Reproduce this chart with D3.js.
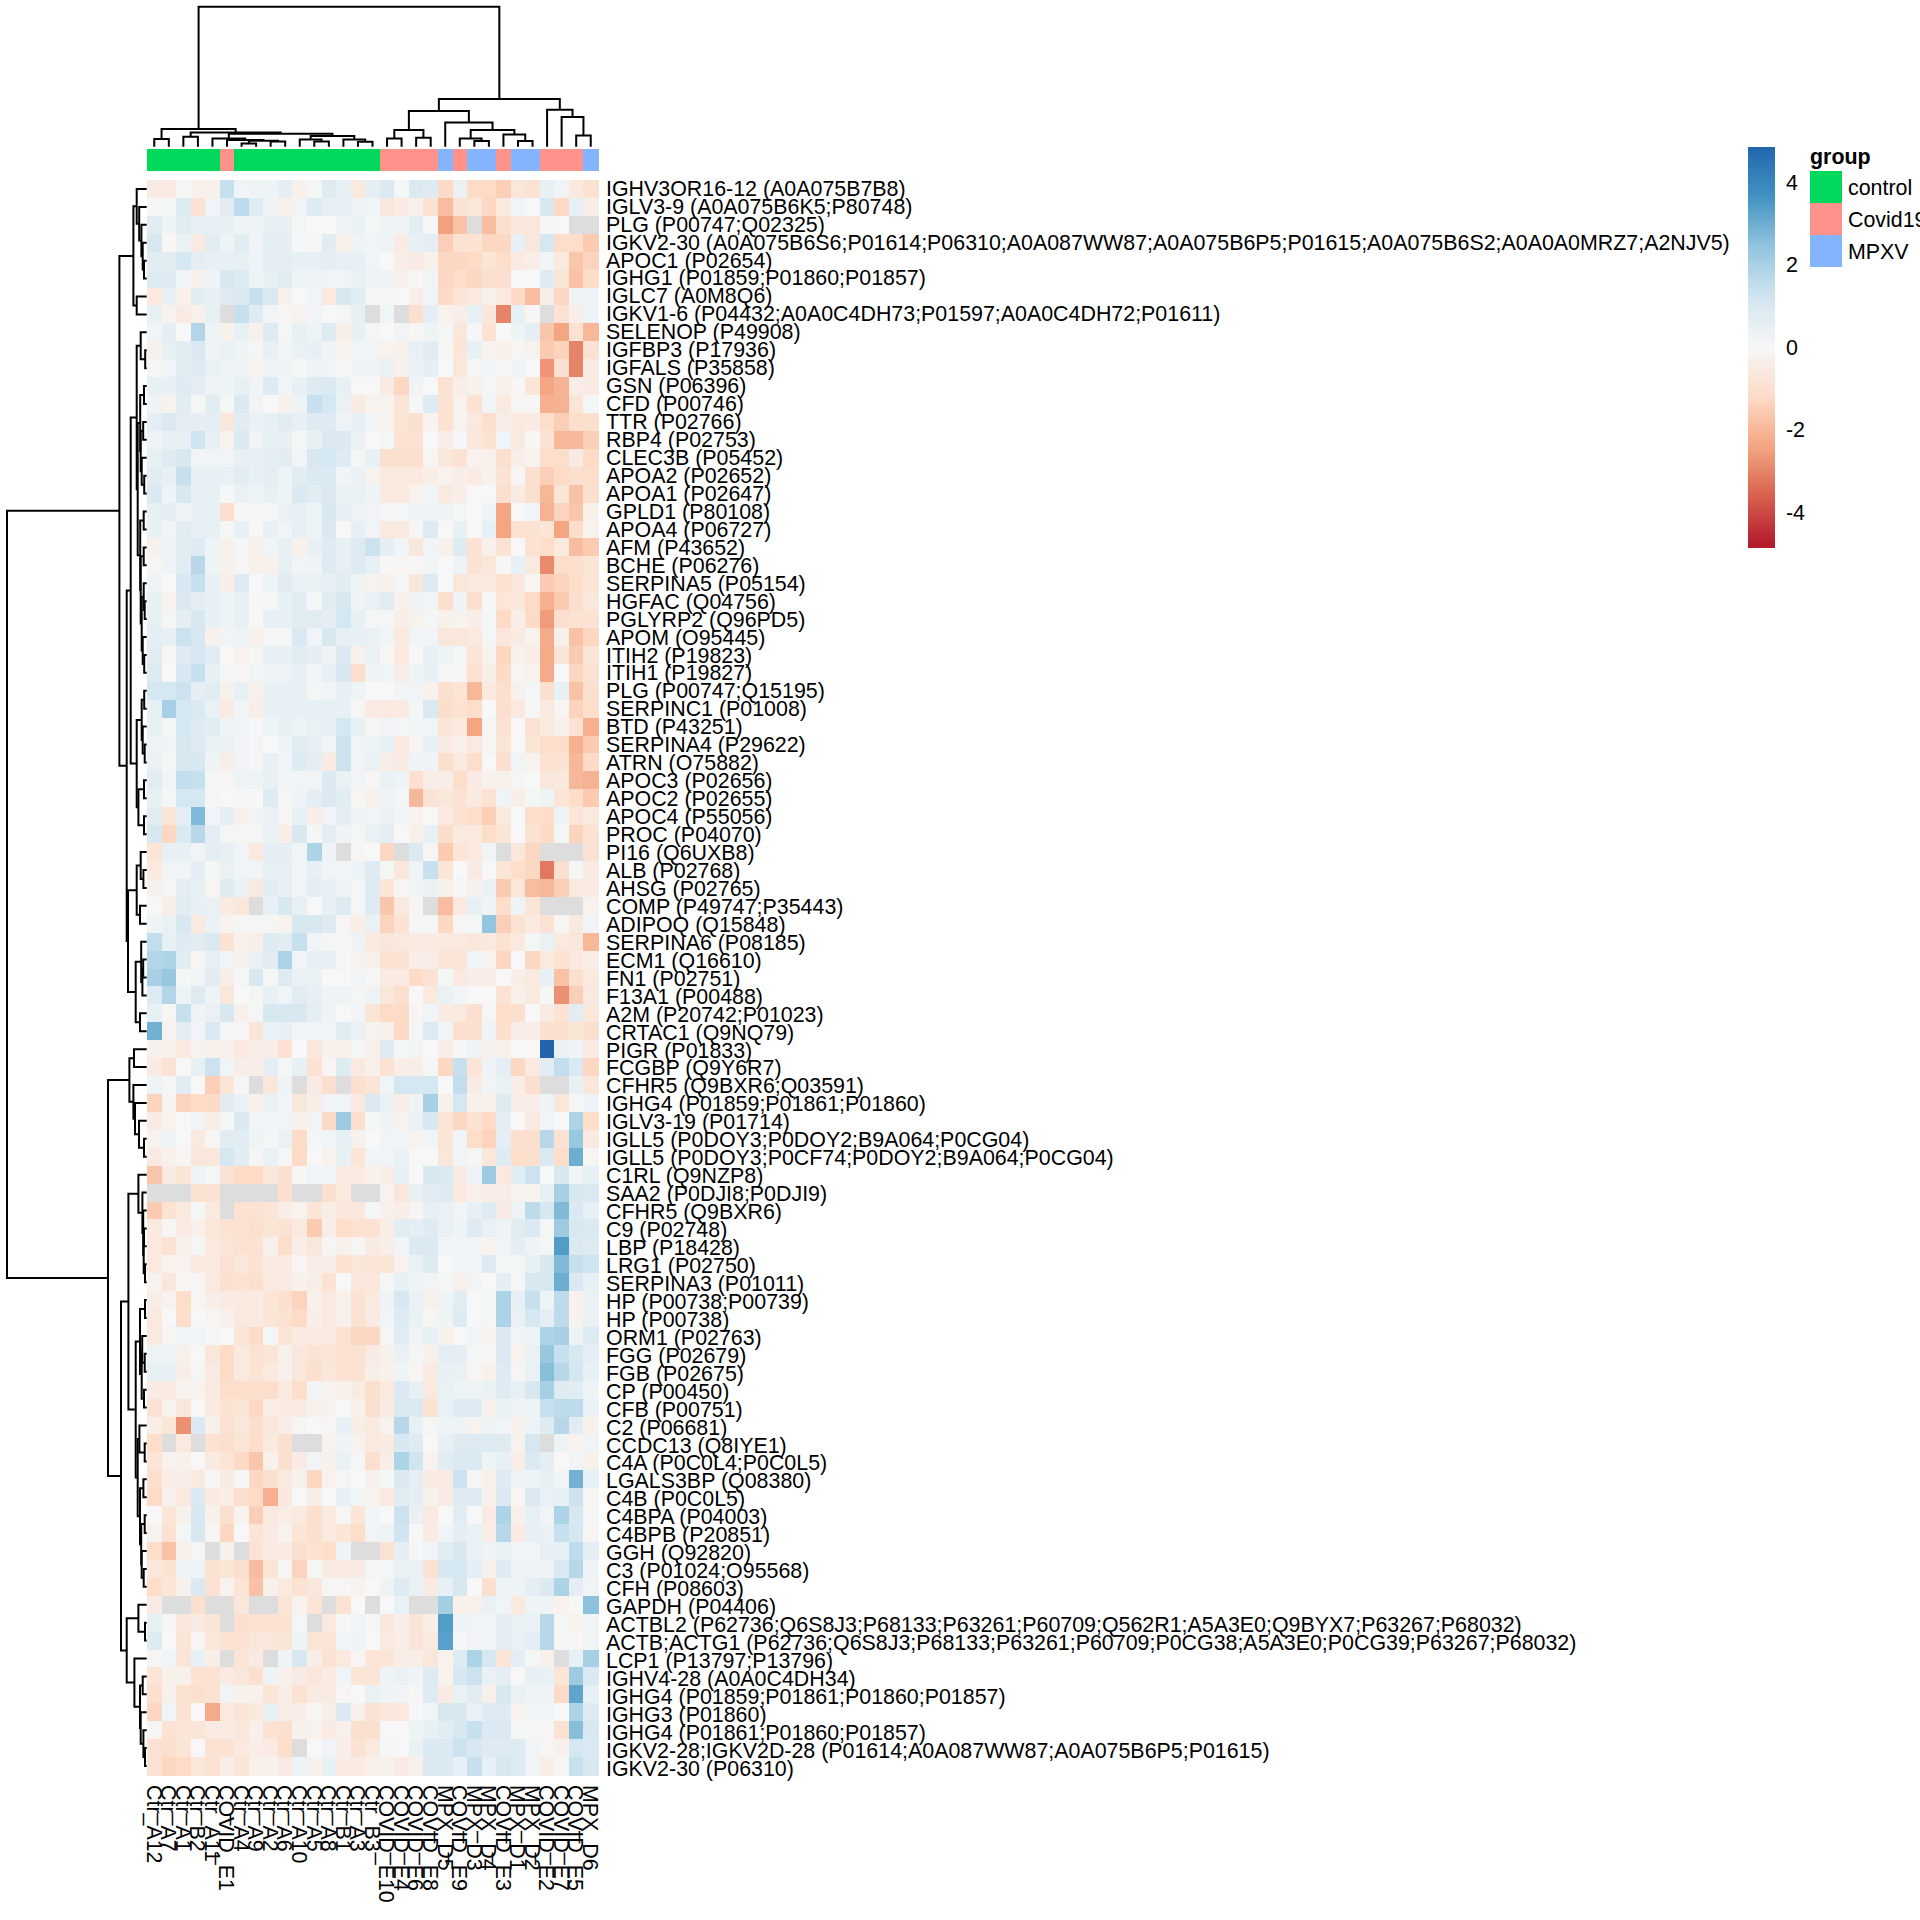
<!DOCTYPE html>
<html><head><meta charset="utf-8"><style>html,body{margin:0;padding:0;background:#fff}svg{display:block}</style>
<script src="https://cdn.jsdelivr.net/npm/d3@7"></script></head><body><div id="chart"></div>
<script>
const N = null;
const colLabels = ["Ctr_A12","Ctr_A7","Ctr_A1","Ctr_B2","Ctr_A11","COVID_E1","Ctr_A4","Ctr_A9","Ctr_A2","Ctr_A6","Ctr_A10","Ctr_A5","Ctr_A8","Ctr_B1","Ctr_A3","Ctr_B3","COVID_E10","COVID_E4","COVID_E6","COVID_E8","MPX_D5","COVID_E9","MPX_D3","MPX_D4","COVID_E3","MPX_D1","MPX_D2","COVID_E2","COVID_E7","COVID_E5","MPX_D6"];
const groupNames = ["control","Covid19","MPXV"];
const groupColors = ["#00D95C","#FF928A","#85B4FF"];
const colGroups = [0,0,0,0,0,1,0,0,0,0,0,0,0,0,0,0,1,1,1,1,2,1,2,2,1,2,2,1,1,1,2];
const rowLabels = ["IGHV3OR16-12 (A0A075B7B8)","IGLV3-9 (A0A075B6K5;P80748)","PLG (P00747;Q02325)","IGKV2-30 (A0A075B6S6;P01614;P06310;A0A087WW87;A0A075B6P5;P01615;A0A075B6S2;A0A0A0MRZ7;A2NJV5)","APOC1 (P02654)","IGHG1 (P01859;P01860;P01857)","IGLC7 (A0M8Q6)","IGKV1-6 (P04432;A0A0C4DH73;P01597;A0A0C4DH72;P01611)","SELENOP (P49908)","IGFBP3 (P17936)","IGFALS (P35858)","GSN (P06396)","CFD (P00746)","TTR (P02766)","RBP4 (P02753)","CLEC3B (P05452)","APOA2 (P02652)","APOA1 (P02647)","GPLD1 (P80108)","APOA4 (P06727)","AFM (P43652)","BCHE (P06276)","SERPINA5 (P05154)","HGFAC (Q04756)","PGLYRP2 (Q96PD5)","APOM (O95445)","ITIH2 (P19823)","ITIH1 (P19827)","PLG (P00747;Q15195)","SERPINC1 (P01008)","BTD (P43251)","SERPINA4 (P29622)","ATRN (O75882)","APOC3 (P02656)","APOC2 (P02655)","APOC4 (P55056)","PROC (P04070)","PI16 (Q6UXB8)","ALB (P02768)","AHSG (P02765)","COMP (P49747;P35443)","ADIPOQ (Q15848)","SERPINA6 (P08185)","ECM1 (Q16610)","FN1 (P02751)","F13A1 (P00488)","A2M (P20742;P01023)","CRTAC1 (Q9NQ79)","PIGR (P01833)","FCGBP (Q9Y6R7)","CFHR5 (Q9BXR6;Q03591)","IGHG4 (P01859;P01861;P01860)","IGLV3-19 (P01714)","IGLL5 (P0DOY3;P0DOY2;B9A064;P0CG04)","IGLL5 (P0DOY3;P0CF74;P0DOY2;B9A064;P0CG04)","C1RL (Q9NZP8)","SAA2 (P0DJI8;P0DJI9)","CFHR5 (Q9BXR6)","C9 (P02748)","LBP (P18428)","LRG1 (P02750)","SERPINA3 (P01011)","HP (P00738;P00739)","HP (P00738)","ORM1 (P02763)","FGG (P02679)","FGB (P02675)","CP (P00450)","CFB (P00751)","C2 (P06681)","CCDC13 (Q8IYE1)","C4A (P0C0L4;P0C0L5)","LGALS3BP (Q08380)","C4B (P0C0L5)","C4BPA (P04003)","C4BPB (P20851)","GGH (Q92820)","C3 (P01024;O95568)","CFH (P08603)","GAPDH (P04406)","ACTBL2 (P62736;Q6S8J3;P68133;P63261;P60709;Q562R1;A5A3E0;Q9BYX7;P63267;P68032)","ACTB;ACTG1 (P62736;Q6S8J3;P68133;P63261;P60709;P0CG38;A5A3E0;P0CG39;P63267;P68032)","LCP1 (P13797;P13796)","IGHV4-28 (A0A0C4DH34)","IGHG4 (P01859;P01861;P01860;P01857)","IGHG3 (P01860)","IGHG4 (P01861;P01860;P01857)","IGKV2-28;IGKV2D-28 (P01614;A0A087WW87;A0A075B6P5;P01615)","IGKV2-30 (P06310)"];
const legendTicks = [4,2,0,-2,-4];
const valueMin = -4.85, valueMax = 4.85;

const heatRows = [
[-.5,-.5,.1,-.3,-.3,1.4,.2,.3,.3,.6,-.3,.1,.8,.5,-.6,.6,.9,.1,.9,.8,-1.2,.4,-1.2,-1.2,-1.5,-.7,-.9,.5,.2,-.6,-.9],
[-.05,.1,.8,-.9,.2,.7,1.6,.8,.3,-.3,.2,.8,.5,.5,.3,.2,-.7,-.5,-.3,-.9,-1.9,-.9,-.7,-1.3,-.6,.2,0,1,-1.2,.5,-.4],
[.7,.3,.7,.5,.5,.5,.3,.3,.5,.5,.1,0,0,.3,.4,.1,.3,.3,.7,.1,-2.5,-1.8,N,-1.9,-1,-.7,-.7,-.05,0,N,N],
[1,-.05,.4,-.5,.7,.3,.7,.2,.6,.6,.05,.1,.7,-.3,.3,.2,.3,-.5,.5,.6,-1.5,-.9,-.9,-1.3,-1.3,.5,-.7,1.1,-1.1,-1.1,-1.6],
[.7,.7,1.1,.6,.5,.5,.5,.3,.6,.6,.5,.5,.6,.5,.5,.2,0,-.4,-.5,-.3,-1.3,-1.3,-1.2,-.8,-1.1,-.5,-.4,.2,-.6,-1.7,-1.4],
[.8,.8,.2,-.3,.3,1,.8,.3,.5,.7,.3,.3,.2,.2,.4,.3,.3,-.3,-.1,.2,-1.3,-1.1,-1.3,-1,-1,0,0,.8,-.8,-1.8,-1.1],
[-.6,.5,-.3,.7,.5,.8,.9,1.4,.9,-.3,0,.2,-.6,1,.7,.1,.1,0,-.4,.2,-1.2,-.8,-.6,-.3,-.6,-1.2,-1.9,-.4,-1.3,.3,.3],
[.5,-.2,-.5,-.3,.5,N,1.4,.8,.2,-.1,-.2,.2,0,.1,.5,N,.2,N,-1,.6,-.2,-.4,.5,-.7,-3,.5,-.1,N,-.9,-.4,.3],
[.2,.6,0,1.8,.3,-.3,.5,-.3,.8,.1,.5,.3,.8,-.4,.5,.1,0,.2,-.1,.3,.1,-.7,.05,-.9,0,.3,.6,-1.7,-2.4,-.9,-2],
[-.3,.5,.7,.9,.3,.4,.3,.1,.5,.2,.4,.5,.3,-.2,.2,.2,-.2,-.3,.5,.7,-.1,-.8,.5,-.2,-.3,-.1,-.2,-1.6,-1.4,-3,-.9],
[-.1,.2,.7,.8,.4,.3,.3,-.2,.3,.3,.1,.3,.2,.1,.3,.3,.4,-.3,.4,.6,0,-.7,.1,.2,-.1,.3,0,-2.7,-1,-3,-.5],
[.5,.5,.8,.6,.3,.3,.5,.2,.8,.2,.5,.8,.9,.5,0,0,-.5,-1.3,.2,0,-.9,-.4,-.3,.1,-.3,-.05,-.8,-2.4,-2.1,-.4,-.5],
[.3,-.2,.7,.1,.7,.1,.9,.2,0,-.3,.3,1.4,1.1,.4,-.5,-.2,-.2,-.8,.1,.8,-.9,-.2,-.9,.2,-.6,-.05,-.05,-2.2,-2.1,-.8,.1],
[.6,.9,.6,.6,.6,-.7,.7,.4,.5,.7,.5,.8,.8,.3,.5,.2,-.2,-.8,-1,-.2,-.9,-.2,-.6,-1,-.4,-.6,-.5,-1.1,-1.5,-1.1,-1],
[.3,.5,.5,1.2,.5,-.2,.9,.2,.5,.5,.1,.5,.9,.9,.4,0,.1,-.9,-.9,0,-.4,.05,-.7,-.9,.2,-.6,-.05,-.9,-2,-2,-1.5],
[.5,.8,1,.2,.2,.2,.5,.5,.6,.7,.2,1,1.1,.8,.1,.5,-1,-1,-1,-.1,-.7,-.9,-.2,-.3,-1,-.4,-.2,-1.1,-1.1,-.5,-1.2],
[.7,.5,1.4,.5,.5,.4,.7,.5,.6,.3,.7,.9,.9,.2,.4,-.2,-.6,-.6,-.6,-.4,-.2,-.4,-.5,-.3,-.9,-.1,-1,-1.5,-1.2,-1,-1.1],
[.9,.3,1,.5,.5,.05,.4,.3,.5,.3,.9,.7,.9,.4,.4,.3,-.6,-.6,-.2,.2,-.6,-.4,0,0,-1,-.5,-1,-2,-.8,-1.8,-1],
[.5,.6,.3,.5,.5,-1,-.05,-.1,.1,.4,.5,.3,1,.5,.3,.2,.05,.05,.3,.3,.3,.1,0,.3,-2.4,0,.2,-2.1,-1.4,-1.7,-.3],
[.5,.2,.7,.5,.5,.1,.5,-.05,.5,.2,.5,.3,.9,0,.5,.2,-.6,-.6,-.1,.8,0,.5,0,.5,-2.4,-.9,-.9,-.8,-2.4,-1.1,-.2],
[-.3,.3,.7,.8,.3,-.3,.1,-.3,.2,.5,-.3,.5,.8,.5,.8,1.3,.6,.2,-.7,.2,-.3,.8,-.9,-.3,-.9,0,-.9,-1.1,-.6,-1.9,-1.6],
[-.1,.3,.7,1.7,.3,-.3,-.1,-.3,-.3,.5,.2,.3,.8,.5,.8,.5,-.05,-.1,-.05,.2,0,.3,-.9,-.7,-.05,.5,-.6,-2.9,-1.1,-1,-.8],
[.3,0,1,1.4,.5,-.4,.8,0,.3,.7,.4,.4,.5,.7,.3,-.2,-.3,.1,-.7,.8,0,-.7,-.6,-.6,-.9,-.7,-.1,-1.6,-1.4,-1.1,-.8],
[.5,-.2,.9,.6,.5,.3,.5,0,.1,.5,.7,.1,.7,1,.3,.4,.7,-.3,.3,.2,-1,.3,-1,.1,-.8,-.7,-1.2,-2.2,-1.6,-1,-.7],
[.5,.1,.6,1,.5,.3,.5,-.05,.5,.5,.7,.7,.6,1.1,.5,.1,.1,-.4,-.2,.1,-.3,-.2,-.4,.1,-1.2,-.4,-1.2,-2.6,-1,-.9,-.9],
[.6,.5,1.3,1,-.3,.2,.3,-.3,.1,.1,.9,.2,1,.5,.5,.4,.2,-.6,.2,.2,-.7,-.7,-.6,.1,-.7,-.5,-.2,-2.3,-.3,-1.8,-1.3],
[.7,-.05,.8,1.1,.7,0,-.2,.1,.5,.5,.7,.6,.3,.9,-.3,.4,-.05,-.6,0,.5,.3,.1,-.8,-.2,-1.3,-.3,-.4,-2.3,-.8,-1.6,-.8],
[.8,0,1,1.4,.5,.1,-.05,.2,.3,.3,.5,.2,.5,1,-1,.3,.2,-.4,.3,.5,-.1,-.1,-.9,-.4,-1.2,-.05,-.2,-2.3,0,-1.3,-.9],
[1.1,1.1,1.3,.6,.7,-.3,.5,-.3,.5,.5,.5,.1,.2,.5,.3,0,0,.2,.2,-.3,-1,-.8,-2,-.6,-1,-.3,.1,-1,.5,-1.8,-1],
[.5,2,1.1,.9,.4,-.5,.2,-.4,.5,.5,.5,.5,.5,.5,.1,-.5,-.6,-.5,.1,.9,-1.1,-.9,-1.1,0,-1,-.6,.1,-.6,-.1,-1.4,-1.1],
[.5,.1,1.1,.8,.7,.3,.2,0,.3,.5,.3,.4,.5,1.1,.5,-.1,.2,.1,.2,.2,-.8,-.6,-2.4,-.1,-.9,0,-.9,-.6,-.3,-.9,-2.2],
[.3,.2,1,.8,.4,.4,.2,.1,0,.3,.7,.5,.2,1.3,.2,.3,.5,-.6,-.1,.5,-.5,-.3,-.6,-.1,-.8,0,-.8,-1.1,-1.1,-2.2,-1.6],
[.4,.1,1,1,.3,-.4,.2,.1,.5,.2,.8,.6,-.5,1.3,.2,.4,-.4,-.5,.3,.3,-1,-.6,-1.1,0,-1,.2,-.2,-.9,-.9,-2,-1.2],
[.7,.2,1.5,1.4,.1,-.1,.3,.3,.5,.2,.2,.2,.9,.4,.2,-.1,.4,.3,-1,-.4,-.4,-1.1,-.5,-.3,-.3,.1,0,-.7,-.6,-2,-2.1],
[.5,.1,1.1,1.1,.1,0,.1,0,.8,.1,.3,.6,.9,.7,-.1,-.3,.3,.1,-2,-.9,-.7,-.9,-.5,-.9,.2,-.4,.1,.3,-.8,-1.1,-1.6],
[.7,-.8,.6,2.7,.2,.6,-.3,.2,.4,-.1,.5,-.4,.2,.6,.3,.2,.4,.2,-.2,0,-.5,-.9,-1.1,-1.5,-.6,0,-1.1,-1.1,.3,-.8,-.6],
[1,-1.3,.9,1.7,.6,.1,.1,.1,.4,-.4,1,.1,.6,.3,.1,.4,.6,0,-.3,.5,-1.1,-.6,-.6,-1.1,-.8,0,-.9,-1.2,.1,-1.4,-.9],
[-.8,.5,.5,.2,.6,.5,.2,-.6,.6,.6,.2,1.9,.3,N,-.1,0,-1.3,N,.9,-.1,-1.6,-.8,-.6,.2,N,-.7,-1.3,N,N,N,-.9],
[-.6,.2,.2,.6,.1,.4,.2,.2,.5,.5,.2,.5,.2,.2,.3,.8,.1,-.7,.3,1.4,-.8,0,-.5,0,-.8,-1.1,-1.3,-3.2,-1,.1,-.5],
[-.3,.1,.6,.5,-.1,.8,.4,-.6,.7,.5,.2,.6,.5,.3,.1,.8,-.8,-.1,.2,.4,-.3,.1,-.3,.4,-1.6,-.7,-1.9,-2,-1.5,-.6,-.5],
[0,-.4,.7,.5,.4,-.5,-.7,N,.5,1,.5,0,.5,.8,.1,.8,-1.7,-.6,-.1,N,-1.9,-.6,.5,.3,-1.1,.3,-.8,N,N,N,-.2],
[.3,.4,1,-.6,.4,-.2,.1,.1,.1,-.2,1,1,.8,-.1,-.4,.4,-1.4,-.9,.1,.1,-1.3,-.1,.1,2.4,-1.5,-.9,-.6,-.9,-.1,-.6,.2],
[1.5,.5,.8,.7,.9,-.9,-.3,-.4,.8,.7,1.4,.2,.1,.1,.3,-.6,-.7,-.6,-.5,-.5,-.6,-.6,-.7,-.6,-.9,-.6,.1,.4,-.6,-.7,-2],
[1.8,1.9,.7,-.1,.5,.2,-.3,.4,.7,1.9,.2,.5,.5,.1,-.2,-.3,-.9,-.9,-.4,-.4,-.8,-.8,.2,-.2,-1.3,0,-1.3,-.6,-.9,-.6,-.4],
[2,2.3,.1,.2,.7,-.4,.1,1,.1,.8,.4,.4,0,0,.2,-.1,-.5,-.5,-1.2,-.9,.1,-.6,-.4,-.4,0,-.4,-.6,.5,-1.8,-1,-.6],
[.8,1.8,.3,.8,.3,-.7,0,.1,.5,.2,.7,.5,.3,.3,.1,.3,-.7,-1,0,-.6,.4,.2,0,0,-.9,-.3,-.6,.1,-2.8,-1.5,-.6],
[.5,-.1,1.4,.3,.4,1,-.3,.1,1,1,1,.6,.3,0,.2,-.8,-1.2,-1.2,-.1,.2,-.5,-.6,-1,.1,-1.1,-1,0,-.5,-.9,.7,-.7],
[2.9,-.2,.6,.2,.9,.1,-.1,-.8,.4,.5,.2,.2,.2,.7,.4,-.2,-.3,-1.2,.1,.8,.2,-1,-1,.3,-1,-.4,-.4,-1,-1,-.8,-1],
[-.3,-.3,-.6,-.2,-.3,-.3,-.6,-.4,-.4,-.9,0,-.7,-.3,-.3,.1,-.3,.8,.1,.2,0,-.4,-.1,.3,-.3,-.3,0,0,4.85,.4,.2,-.5],
[-.5,-.9,0,.5,1.3,.2,-.4,-.4,.6,.1,.5,-.9,-.1,.8,-.6,-.3,-.9,-.4,-.4,.1,-1.3,1.4,-.8,.3,.6,-1.3,-.6,.7,1.5,.9,-1.3],
[.3,.1,.7,0,-1.5,-.8,.1,N,-.7,.3,N,-.5,-1,N,-1,-.8,.2,1.1,1.1,1.1,0,1.5,-.5,.2,.4,-.4,-1,N,N,.4,-.7],
[-1.4,-.1,-1.4,-1.2,-1.2,.7,.4,-.3,.4,.2,-.7,-.4,.2,.2,-.6,.9,.4,-.4,.3,2,-.3,1.1,-.3,-.3,.8,-.4,-.4,.3,-.7,.1,.3],
[-.5,-.2,0,.2,-.4,.1,.9,.2,.2,.2,-.3,.2,-1.2,2.2,-1,.1,.3,-.2,.4,1,-.8,-1.3,-.9,-1.2,.6,0,-.5,.2,0,1.9,-1.1],
[-.2,.3,0,-.6,-.1,.7,.7,.3,.1,.4,-1.2,.1,.2,.5,-.3,0,.2,.2,-.2,.2,-.8,.2,-1.1,-1.4,.6,-1,-1,1.7,-.9,2.3,-.6],
[-.5,-.3,-.1,-.7,-.7,1.1,.7,.1,.4,.1,-1.2,0,-.2,.5,-.8,.2,.2,.4,0,0,-.7,.2,.1,-.7,.8,-1.1,-1,.9,-1.1,3,-.1],
[-1.7,-.5,-.8,.3,.1,-.9,-1.2,-1.2,-.7,-1,-.1,.2,.2,-.5,-.5,-.3,-.4,.5,0,1,.9,-.5,.3,2.2,-.6,.7,1.3,0,1,.2,.5],
[N,N,N,-.9,-.9,N,N,N,N,-1,N,N,-1,-.6,N,N,-.2,-.7,.4,.7,.8,-.6,-.3,-.4,-.4,-.2,-.2,.5,2,1,.9],
[-1.6,-.9,-.6,.1,-.6,N,-.9,-.9,-.8,-.4,-.2,-.8,-.4,-.7,-.7,.1,-.3,-.4,-.1,.5,.4,.2,.5,.8,-.5,.3,1.6,1,2.7,.9,.5],
[-.6,-.1,-.5,-.3,-.7,-.9,-.9,-1,-.8,-.9,-.6,-1.6,-.4,-1.1,-.9,-.9,-.4,.7,.6,.8,.4,.3,.8,.4,.3,.7,.9,.1,2.2,1,.9],
[-.6,-.9,-.3,.1,-.6,-.8,-.9,-.9,-.3,-1.1,-.4,-.7,-.1,-.3,-.1,-.5,-.4,.2,.9,.9,.2,.2,.2,-.2,.2,.6,.3,.1,3.4,.9,.8],
[-.6,-.2,-.2,-.6,-.6,-.9,-.7,-.9,-.5,-.5,-.1,-.4,-.4,-.9,-.7,-.8,-.8,-.2,.4,.8,0,.2,.2,.8,.1,.1,.5,1,2.7,1.4,1.2],
[-.2,-.7,-.1,-.1,-.6,-1,-.9,-1,-.6,-.5,-.3,-.4,-.9,0,-.7,-.7,.1,.5,.3,.2,.1,-.3,.2,0,.6,.1,1,1,3,.9,.5],
[-.4,-.2,-1.1,-.1,-.4,-.5,-.6,-.5,-.8,-1,-1.4,-.3,-.6,-.3,-.9,-.6,.3,1,.4,-.3,.3,.7,0,.1,1.9,.5,1.4,.3,1.6,-.2,.4],
[-.6,0,-1.1,0,-.1,-.3,-.6,-.5,-.8,-.9,-1.2,-.4,-.6,-.3,-.9,-.5,.2,.8,.4,-.1,.3,.8,0,.1,1.9,.4,1.1,.6,1.6,-.2,.4],
[-.6,-.1,.2,.2,.1,0,-.8,-1.2,.1,-.8,-.5,-.5,-.5,-.9,-1.3,-1.3,-.1,.7,.2,.5,-.3,0,.2,-.2,.9,.2,.3,1.9,2,.3,.8],
[.3,.3,-.3,0,-.7,-1.2,-.6,-.9,-.8,-.3,-.7,-.9,-.8,-.9,-.9,-.5,-.3,.4,.1,-.3,.6,.6,.1,-.1,.9,-.2,.4,2.3,1.4,1,.6],
[.5,.5,-.4,.1,-.5,-1.2,-.6,-.9,-.6,-.3,-.7,-1,-.7,-.9,-.9,-.4,-.3,.3,-.1,-.5,.5,.4,-.1,-.3,.8,-.1,.4,2.6,1.7,1.1,.5],
[-.5,-.5,-.2,-.2,-.6,-1.1,-1.1,-1,-1.1,-.6,-1.1,.2,-.2,-.3,-.5,-1,-.6,.9,.5,-.6,.4,.3,.3,.4,.8,.5,1,2,.8,.7,.3],
[-.9,-.2,-.7,0,-.5,-.9,-.8,-1.3,-.4,-.5,-.5,-.3,-.2,0,-.3,-1,-.5,.9,.9,-.9,.4,.8,.8,-.3,.4,.3,.3,1.4,1.6,1.6,.4],
[-.4,-.8,-2.8,.9,-.3,-.9,-.7,-1,-.7,-.4,-.1,0,-.1,.5,-.4,-.6,-.2,1.7,.5,.1,.3,.3,-.2,.3,.2,-.3,.3,.8,1.7,.7,-.3],
[-1.1,N,-.6,N,-.9,-1,-.8,-1.1,-.6,-1,N,N,-.2,.3,-.2,-.6,-.5,1,.8,0,.5,.8,.8,.8,.8,-.2,1.1,N,.3,-.2,.2],
[-.8,-.2,-.3,0,-.5,-.8,-1.2,-1.7,-.3,-1,-.5,.2,-.3,.4,.1,-1,-.4,1.9,1.2,-.2,.7,.9,.9,.3,.5,-.4,.9,.6,0,.2,-.3],
[-1,-.4,-.4,-.6,-.1,-.5,.1,-1.3,-1,-.6,-.3,-1.3,-.2,.1,0,-.3,.1,.9,.6,-.5,-.5,1.3,.1,-.3,.8,.3,.3,.5,.2,2.9,.5],
[-1.2,-.3,-.6,.9,-.5,-.4,-1,-1.2,-2.2,-.6,0,-.4,0,.5,.2,-.2,-.6,.7,.6,-.3,-.5,.8,.8,-.3,.9,-.1,.9,.4,.5,1.3,-.1],
[0,-.8,-.3,1,-.3,-1,-.2,-1.5,-.6,-.4,-.6,-1,-.6,-.1,-.8,.2,0,1.3,.4,-.6,0,.7,0,-.5,1.9,-.3,.5,.2,1.9,1,.1],
[-.2,-.9,.1,1,-.1,-1.3,0,-.8,-.5,-.2,-.8,-1,-.6,-.8,-1.1,.2,.3,1.2,0,-.5,.2,.6,.4,-.4,1.7,-.5,.5,.4,1.4,1.1,-.1],
[-1.1,-1.8,-.3,.1,N,-.3,N,-.9,-.5,-.5,-1,-.9,-1.1,.3,N,N,-.9,.6,.1,.2,.7,1,.4,.3,.4,.2,.2,.5,.5,1.6,.6],
[-.7,-.9,.3,.3,-.9,-.8,-1,-1.9,-.8,-.1,-1.4,.1,-.5,-.5,-.5,.1,.1,.4,.4,-.9,1,1.1,.6,-.3,.8,.3,.3,.3,.9,1.7,.3],
[-1.1,-.8,-.3,.9,-.9,-.2,-.8,-1.8,-.3,-.6,-.9,-.7,.1,-.1,-.2,0,.3,.8,.4,-.5,.5,1,0,-1,.3,.3,.6,.9,1.9,.6,.2],
[-.5,N,N,-1,N,N,-.7,N,N,-.8,-.2,-.8,N,-.9,0,N,0,.4,N,N,2.1,-.3,-.3,.4,.2,-.6,.3,.3,-.2,0,2.5],
[.5,-.1,-.7,-.5,-.8,N,-1,-.9,-.9,-.9,.1,N,-.6,.1,.2,.1,-.7,-.4,-.8,-.4,3.4,.3,.2,.2,.6,.4,.4,1.7,.1,-.2,.2],
[.8,0,-.8,-.1,-.7,-.9,-.9,-.7,-.7,-.8,.3,-.8,-.8,.2,.3,0,-.6,-.4,-.8,-.6,3.3,.1,.2,.2,.6,.4,.6,1.7,.1,-.1,.2],
[-.1,.2,-.8,.5,-.4,N,-.8,-.5,N,.3,1,-.4,-.9,-.6,-.1,-.8,-.8,-.4,-.4,-.7,-.2,.8,1.9,1.1,-.8,.6,.1,-.3,N,.5,2],
[-.8,-.3,-.3,-.9,-.9,-.5,-.7,-1,.3,-.3,-.5,-.7,-.5,.2,-.8,-.8,.3,.4,.2,.8,-.2,1,1.3,.4,.6,0,.5,.4,-.8,2.2,.9],
[-1,-.3,-.9,-1,-.9,.2,-.3,-.3,-.8,-.4,-.9,-.5,-.5,-.1,0,.4,.3,.2,-.1,.8,-.5,.4,.7,-.3,1,.4,.3,.3,-1.2,3.2,.5],
[-1.3,.2,-.9,0,-2.3,-.6,-.8,-.6,.5,-.4,-.4,-.1,-.4,.9,-.3,-.9,-.7,-.6,0,.2,1,1,.4,.8,.8,-.2,.2,.2,0,1.9,.8],
[-.1,-.9,-.8,-.8,-.5,-.5,-.7,-.3,-.9,-1,-.3,-.2,-.5,-.3,-1,-1,0,0,.3,.5,.7,1,1.4,.9,.9,.1,.1,-.1,-.9,2.6,1],
[-.9,-1,-.8,0,-.9,-.9,-.6,-.4,-.5,-1.1,N,0,.2,-.4,-.9,-.6,.1,0,.4,.9,.9,1.3,1,.8,.8,.8,.2,-.1,-.3,1.1,.9],
[-.9,-1.3,-1.2,-.7,-.9,-.4,-.8,-.3,-.3,-.5,.3,-.3,.5,-.5,-.5,-.3,-.3,-.5,-.3,.9,.9,.5,1.4,.5,1,.8,.2,-.4,-.1,1.4,1]
];

// Dendrogram merges: [height, leftChild, rightChild]; a bare number is a leaf index.
const colTreeControl = [17.7,[7.7,0,1],[14.3,[10,2,3],[13,[8.3,4,[6.7,5,[6,[3.3,6,7],[5.3,8,9]]]],[10.7,[7.3,10,[5.3,11,12]],[7.3,13,[5,14,15]]]]]];
const colTreeCase = [47.7,[35.7,[16.7,[8.3,16,17],[9,18,19]],[24.3,20,[16.7,[8.3,21,[5.7,22,23]],[12.3,24,[5.7,25,26]]]]],[37,27,[29.7,28,[11.3,29,30]]]];
const colTree = [140,colTreeControl,colTreeCase];

const rowTreeA = [13.3,[10,0,[7.5,1,[5.3,2,[4,3,[2.7,4,5]]]]],[10,6,7]];
const rowTreeB = [16,[10,[6,8,[1.5,9,10]],[9,[6.5,[2.7,11,12],[6,[3.5,13,14],[5,15,[2.5,16,17]]]],[6.5,[3,18,19],[6,[3,20,21],[5,[3,22,[2,23,24]],[4,25,[2.5,26,27]]]]]]],[10,[5,[2.5,28,29],[4,30,[2,31,32]]],[8.3,[2.7,33,34],[2.7,35,36]]]];
const rowTreeC = [18.7,[10,[6,37,[3.3,38,39]],[6.7,40,41]],[11,[5.5,42,[4.3,[3.5,43,44],45]],[6.7,46,47]]];
const rowTreeD = [17.3,[12.7,48,49],[13.3,50,[11.7,51,[7.7,52,[2.7,53,54]]]]];
const rowTreeE = [18.3,[8.3,55,[4.3,56,[3.5,57,[3,[2.7,58,59],[1.7,60,61]]]]],[11,[6.7,[1.7,62,63],[5,[4.5,64,[2,65,66]],[2.7,67,68]]],[9,[7.3,69,[2,70,71]],[6.7,[3.3,72,73],[5.5,[2,74,75],[5,76,[3,77,78]]]]]]];
const rowTreeF = [20,[8.3,79,[1.7,80,81]],[12.3,82,[6.7,[4,83,84],[6,85,[3.3,86,[1.7,87,88]]]]]];
const rowTree = [139.7,[27.3,rowTreeA,[20,rowTreeB,rowTreeC]],[38.7,rowTreeD,[25.7,rowTreeE,rowTreeF]]];

const W = 1920, H = 1920, labelSize = 21.4;
const svg = d3.select("#chart").append("svg").attr("width",W).attr("height",H).attr("viewBox",`0 0 ${W} ${H}`).style("font-family","'Liberation Sans',Arial,sans-serif");
const hmLeft=147,hmRight=598,hmTop=180,hmBottom=1775;
const x = d3.scaleBand().domain(d3.range(colLabels.length)).range([hmLeft,hmRight]);
const y = d3.scaleBand().domain(d3.range(rowLabels.length)).range([hmTop,hmBottom]);
const labelY = d3.scaleBand().domain(d3.range(rowLabels.length)).range([hmTop-1,hmBottom+2]);
const rb = d3.schemeRdBu[9];
const color = d3.scaleLinear().domain(rb.map((_,i)=>valueMin+(valueMax-valueMin)*i/8)).range(rb).interpolate(d3.interpolateRgb).clamp(true);
const naColor = "#DDDDDD";

// heat cells
const cells = heatRows.flatMap((r,ri)=>r.map((v,ci)=>({ri,ci,v})));
svg.append("g").attr("shape-rendering","crispEdges").selectAll("rect").data(cells).join("rect")
 .attr("x",d=>x(d.ci)).attr("y",d=>y(d.ri)).attr("width",x.bandwidth()+.5).attr("height",y.bandwidth()+.5)
 .attr("fill",d=>d.v===null?naColor:color(d.v));

// annotation bar
svg.append("g").attr("shape-rendering","crispEdges").selectAll("rect").data(colGroups).join("rect")
 .attr("x",(d,i)=>x(i)).attr("y",149).attr("width",x.bandwidth()+.5).attr("height",22).attr("fill",d=>groupColors[d]);

// dendrograms
const dendroH = d3.scaleLinear().domain([0,140]).range([146.7,6.7]);
function layout(node,pos,segments){
 if(typeof node==="number") return {p:pos(node),h:0};
 const a=layout(node[1],pos,segments), b=layout(node[2],pos,segments);
 segments.push({a,b,h:node[0]});
 return {p:(a.p+b.p)/2,h:node[0]};
}
const xc=i=>x(i)+x.bandwidth()/2, yc=i=>y(i)+y.bandwidth()/2;
const colSeg=[]; layout(colTree,xc,colSeg);
const rowSeg=[]; layout(rowTree,yc,rowSeg);
const line=d3.line();
svg.append("g").attr("fill","none").attr("stroke","#000").attr("stroke-width",2).selectAll("path").data(colSeg).join("path")
 .attr("d",s=>line([[s.a.p,dendroH(s.a.h)],[s.a.p,dendroH(s.h)],[s.b.p,dendroH(s.h)],[s.b.p,dendroH(s.b.h)]]));
svg.append("g").attr("fill","none").attr("stroke","#000").attr("stroke-width",2).selectAll("path").data(rowSeg).join("path")
 .attr("d",s=>line([[dendroH(s.a.h),s.a.p],[dendroH(s.h),s.a.p],[dendroH(s.h),s.b.p],[dendroH(s.b.h),s.b.p]]));

// row labels
svg.append("g").selectAll("text").data(rowLabels).join("text")
 .attr("x",606).attr("y",(d,i)=>labelY(i)+labelY.bandwidth()/2).attr("dy","0.36em").attr("font-size",labelSize).attr("fill","#000").text(d=>d);
// col labels
svg.append("g").selectAll("text").data(colLabels).join("text")
 .attr("transform",(d,i)=>`translate(${xc(i)},1785) rotate(90)`).attr("dy","0.36em").attr("font-size",labelSize).attr("fill","#000").text(d=>d);

// colour bar
const bar = d3.scaleLinear().domain([valueMax,valueMin]).range([147,547]);
const barSteps = d3.range(100).map(i=>valueMax-(valueMax-valueMin)*(i+.5)/100);
svg.append("g").attr("shape-rendering","crispEdges").selectAll("rect").data(barSteps).join("rect")
 .attr("x",1748).attr("width",27).attr("y",d=>bar(d+(valueMax-valueMin)/200)).attr("height",400/100+.5).attr("fill",d=>color(d));
svg.append("g").selectAll("text").data(legendTicks).join("text")
 .attr("x",1786).attr("y",d=>bar(d)).attr("dy","0.36em").attr("font-size",labelSize).attr("fill","#000").text(d=>d);

// group legend
svg.append("text").attr("x",1810).attr("y",156).attr("dy","0.36em").attr("font-size",labelSize).attr("font-weight","bold").attr("fill","#000").text("group");
svg.append("g").attr("shape-rendering","crispEdges").selectAll("rect").data(groupNames).join("rect")
 .attr("x",1810).attr("y",(d,i)=>171+32*i).attr("width",32).attr("height",32).attr("fill",(d,i)=>groupColors[i]);
svg.append("g").selectAll("text").data(groupNames).join("text")
 .attr("x",1848).attr("y",(d,i)=>187+32*i).attr("dy","0.36em").attr("font-size",labelSize).attr("fill","#000").text(d=>d);
</script></body></html>
